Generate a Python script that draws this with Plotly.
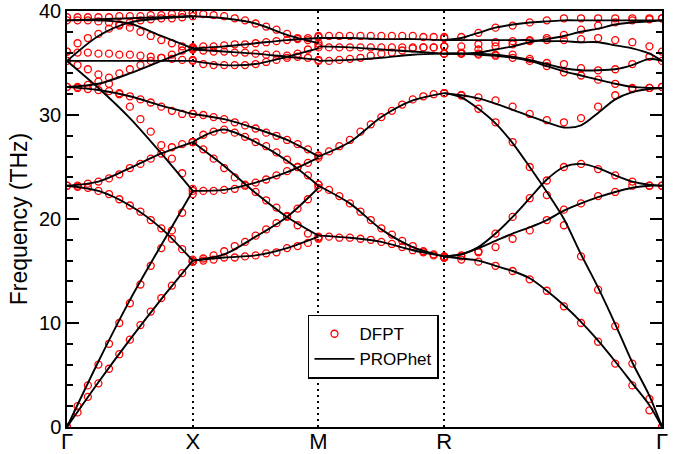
import plotly.graph_objects as go

# high-symmetry path (k coordinates) and labels
K_TICKS = [0.0, 0.5, 1.0, 1.5, 2.366]
K_LABELS = ["Γ", "X", "M", "R", "Γ"]

# ---------------- PROPhet (lines): control points ----------------
K_GX_L = [0.0, 0.125, 0.25, 0.375, 0.5]
GX_TA = [0.0, 4.3, 8.4, 12.3, 16.0]
GX_LA = [0.0, 6.3, 12.2, 17.5, 22.7]
GX_A3 = [23.2, 22.7, 21.3, 19.1, 16.0]
GX_A4 = [23.2, 23.6, 24.9, 26.3, 27.4]
GX_A5 = [32.7, 32.4, 31.8, 30.9, 30.1]
GX_A6 = [35.2, 32.6, 29.7, 26.3, 22.7]
GX_A7 = [32.7, 33.0, 34.0, 35.2, 36.4]
GX_A8 = [35.2, 35.2, 35.2, 35.2, 35.2]
GX_B = [35.2, 37.6, 38.9, 39.3, 39.5]
GX_C = [39.1, 39.1, 38.8, 37.6, 36.4]
GX_TOP = [39.1, 39.2, 39.3, 39.4, 39.5]

K_XM_L = [0.5, 0.625, 0.75, 0.875, 1.0]
XM_1 = [30.1, 29.6, 28.7, 27.6, 26.0]
XM_3 = [27.4, 25.1, 22.5, 20.2, 18.4]
XM_4 = [22.7, 22.8, 23.5, 24.5, 25.9]
XM_5 = [16.0, 16.3, 16.5, 17.2, 18.3]
XM_6 = [16.0, 16.6, 18.3, 20.2, 23.0]
XM_U1 = [39.5, 39.3, 38.8, 37.7, 36.9]
XM_U2 = [36.4, 36.6, 36.9, 37.2, 37.4]
XM_U3 = [36.3, 36.1, 35.9, 35.6, 35.3]
XM_U4 = [35.2, 34.8, 34.9, 35.6, 36.4]
K_XM2 = [0.5, 0.5625, 0.625, 0.75, 0.875, 1.0]
XM_2 = [27.4, 28.2, 28.6, 27.4, 25.6, 23.2]

K_MR_L = [1.0, 1.125, 1.25, 1.375, 1.5]
MR_1 = [37.4, 37.4, 37.3, 37.3, 37.2]
MR_2 = [36.6, 36.5, 36.3, 36.1, 35.9]
MR_3 = [35.2, 35.3, 35.5, 35.8, 35.9]
MR_4 = [26.0, 27.4, 29.8, 31.4, 32.1]
MR_5 = [23.2, 21.5, 19.0, 17.3, 16.4]
MR_6 = [18.4, 18.2, 17.8, 17.0, 16.4]

K_RG = [1.5, 1.568, 1.636, 1.704, 1.772, 1.84, 1.908, 1.976, 2.044, 2.112, 2.18, 2.248, 2.316, 2.366]
RG_T1 = [37.2, 37.4, 37.9, 38.4, 38.7, 38.9, 39.0, 39.1, 39.1, 39.1, 39.1, 39.1, 39.1, 39.1]
RG_T2 = [37.2, 37.2, 37.2, 37.2, 37.2, 37.2, 37.1, 37.1, 37.0, 37.0, 36.7, 36.4, 35.9, 35.2]
RG_T3 = [35.9, 35.9, 36.0, 36.3, 36.6, 37.0, 37.3, 37.6, 38.0, 38.3, 38.7, 38.9, 39.0, 39.1]
RG_T4 = [35.9, 35.9, 35.9, 35.8, 35.6, 35.3, 34.9, 34.5, 34.3, 34.3, 34.4, 34.8, 35.4, 35.2]
RG_T5 = [35.9, 35.9, 35.8, 35.7, 35.5, 35.2, 34.7, 34.2, 33.8, 33.4, 33.0, 32.7, 32.6, 32.6]
RG_L1 = [32.1, 31.9, 31.6, 31.1, 30.5, 29.9, 29.3, 28.8, 29.0, 30.2, 31.5, 32.2, 32.5, 32.6]
RG_L2 = [32.1, 31.7, 30.6, 29.2, 27.3, 25.0, 22.6, 20.0, 16.6, 13.4, 9.9, 6.2, 3.0, 0.0]
RG_L3 = [16.4, 16.6, 17.3, 18.6, 20.2, 22.0, 23.8, 25.0, 25.3, 24.9, 24.2, 23.6, 23.3, 23.2]
RG_L4 = [16.4, 16.6, 17.2, 17.9, 18.6, 19.2, 19.9, 20.8, 21.5, 22.1, 22.6, 23.0, 23.2, 23.2]
RG_L5 = [16.4, 16.2, 16.0, 15.5, 15.0, 14.3, 13.1, 11.7, 10.1, 8.3, 6.3, 4.2, 2.1, 0.0]

# ---------------- DFPT (points) ----------------
K_GX_D = [0.0, 0.042, 0.083, 0.125, 0.167, 0.208, 0.25, 0.292, 0.333, 0.375, 0.417, 0.458, 0.5]
D_GX = [
    [0.0, 1.4, 2.9, 4.2, 5.6, 7.0, 8.4, 9.8, 11.1, 12.4, 13.6, 14.8, 15.9],
    [0.0, 2.0, 4.0, 6.0, 8.0, 10.0, 11.9, 13.7, 15.5, 17.2, 18.9, 20.6, 22.4],
    [23.2, 23.1, 23.0, 22.7, 22.4, 21.9, 21.3, 20.7, 19.9, 19.1, 18.1, 17.1, 16.1],
    [23.2, 23.2, 23.4, 23.6, 23.9, 24.3, 24.9, 25.3, 25.8, 26.3, 26.9, 27.2, 27.4],
    [32.7, 32.6, 32.5, 32.4, 32.3, 32.1, 31.8, 31.5, 31.2, 30.8, 30.4, 30.1, 30.1],
    [35.2, 34.8, 34.4, 33.9, 33.0, 32.0, 30.8, 29.6, 28.4, 27.1, 25.8, 24.4, 22.9],
    [32.7, 32.7, 32.9, 33.2, 33.6, 34.0, 34.4, 34.8, 35.2, 35.5, 35.8, 36.2, 36.5],
    [36.1, 36.0, 36.0, 35.9, 35.9, 35.8, 35.8, 35.7, 35.6, 35.5, 35.4, 35.3, 35.3],
    [36.1, 36.9, 37.4, 37.8, 38.3, 38.6, 38.9, 39.1, 39.2, 39.3, 39.3, 39.4, 39.5],
    [39.4, 39.4, 39.4, 39.4, 39.4, 39.5, 39.5, 39.5, 39.6, 39.6, 39.7, 39.7, 39.8],
    [39.1, 39.1, 39.1, 39.0, 38.9, 38.7, 38.4, 38.0, 37.6, 37.2, 36.9, 36.6, 36.4],
]
K_XM_D = [0.5, 0.542, 0.583, 0.625, 0.667, 0.708, 0.75, 0.792, 0.833, 0.875, 0.917, 0.958, 1.0]
D_XM = [
    [30.1, 30.0, 29.8, 29.6, 29.3, 29.0, 28.7, 28.3, 28.0, 27.6, 27.2, 26.7, 26.1],
    [27.4, 28.1, 28.4, 28.6, 28.3, 27.9, 27.4, 27.0, 26.4, 25.7, 25.0, 24.2, 23.3],
    [27.4, 26.7, 25.8, 24.9, 24.0, 23.3, 22.6, 21.8, 21.1, 20.2, 19.4, 18.6, 18.2],
    [22.7, 22.7, 22.7, 22.8, 22.9, 23.2, 23.5, 23.8, 24.2, 24.6, 25.0, 25.4, 25.9],
    [15.9, 16.0, 16.1, 16.3, 16.3, 16.4, 16.5, 16.7, 16.8, 17.2, 17.4, 17.7, 18.1],
    [15.9, 16.2, 16.5, 16.9, 17.4, 17.8, 18.4, 19.0, 19.6, 20.3, 21.0, 21.9, 23.0],
    [39.8, 39.7, 39.6, 39.5, 39.3, 39.1, 38.8, 38.5, 38.2, 37.8, 37.4, 37.2, 36.9],
    [36.5, 36.6, 36.6, 36.7, 36.8, 36.8, 36.9, 37.0, 37.1, 37.2, 37.3, 37.4, 37.5],
    [36.3, 36.2, 36.1, 36.1, 36.0, 36.0, 35.9, 35.8, 35.8, 35.7, 35.6, 35.5, 35.3],
    [35.2, 34.9, 34.8, 34.8, 34.8, 34.8, 34.9, 35.1, 35.3, 35.5, 35.9, 36.3, 36.7],
]
K_MR_D = [1.0, 1.042, 1.083, 1.125, 1.167, 1.208, 1.25, 1.292, 1.333, 1.375, 1.417, 1.458, 1.5]
D_MR = [
    [37.6, 37.6, 37.6, 37.6, 37.6, 37.6, 37.6, 37.6, 37.6, 37.6, 37.5, 37.5, 37.5],
    [36.5, 36.5, 36.5, 36.5, 36.5, 36.5, 36.5, 36.5, 36.5, 36.5, 36.5, 36.5, 36.6],
    [35.2, 35.2, 35.3, 35.4, 35.5, 35.7, 35.9, 36.0, 36.2, 36.4, 36.5, 36.5, 36.6],
    [26.1, 26.5, 27.0, 27.6, 28.4, 29.1, 29.8, 30.4, 31.0, 31.5, 31.8, 32.0, 32.1],
    [23.3, 22.8, 22.2, 21.5, 20.7, 19.9, 19.1, 18.5, 17.9, 17.4, 16.9, 16.6, 16.4],
    [18.3, 18.3, 18.2, 18.2, 18.1, 18.0, 17.8, 17.6, 17.3, 17.0, 16.8, 16.5, 16.4],
]
D_RG = [
    [37.4, 37.5, 37.9, 38.4, 38.6, 38.9, 39.1, 39.3, 39.3, 39.3, 39.3, 39.3, 39.3, 39.3],
    [36.6, 36.6, 36.8, 37.0, 37.1, 37.2, 37.2, 37.2, 37.3, 37.4, 37.2, 37.0, 36.6, 36.1],
    [35.9, 36.0, 36.3, 36.6, 36.8, 37.1, 37.4, 37.7, 38.2, 38.6, 38.9, 39.1, 39.2, 39.3],
    [35.9, 35.9, 35.9, 35.8, 35.8, 35.4, 35.0, 34.9, 34.5, 34.3, 34.4, 34.9, 35.6, 35.2],
    [35.9, 35.9, 35.8, 35.7, 35.5, 35.2, 34.7, 34.1, 33.8, 33.4, 33.0, 32.6, 32.6, 32.7],
    [32.1, 31.9, 31.7, 31.4, 30.8, 30.1, 29.5, 29.3, 29.7, 30.8, 31.9, 32.5, 32.6, 32.7],
    [32.1, 31.9, 30.6, 29.3, 27.4, 25.0, 22.3, 19.4, 16.4, 13.2, 9.7, 6.1, 2.7, 0.0],
    [16.3, 16.4, 16.8, 18.6, 20.2, 22.0, 23.7, 25.0, 25.3, 24.8, 24.2, 23.6, 23.2, 23.2],
    [16.3, 16.5, 16.9, 17.3, 18.1, 18.9, 19.9, 20.9, 21.5, 22.2, 22.6, 23.2, 23.2, 23.2],
    [16.3, 16.1, 15.9, 15.5, 15.0, 14.2, 13.1, 11.6, 10.0, 8.2, 6.1, 4.0, 1.6, 0.0],
]

FONT = "Liberation Sans, Arial, sans-serif"
fig = go.Figure()

# DFPT points
dx, dy = [], []
for kk, rows in [(K_GX_D, D_GX), (K_XM_D, D_XM), (K_MR_D, D_MR), (K_RG, D_RG)]:
    for r in rows:
        dx += kk
        dy += r
fig.add_trace(go.Scatter(
    x=dx, y=dy, mode="markers", name="DFPT", showlegend=True,
    marker=dict(symbol="circle-open", size=7, color="#ff0000", line=dict(width=1.3, color="#ff0000")),
))

# PROPhet lines
line_sets = [(K_GX_L, b) for b in [GX_TA, GX_LA, GX_A3, GX_A4, GX_A5, GX_A6, GX_A7, GX_A8, GX_B, GX_C, GX_TOP]]
line_sets += [(K_XM_L, b) for b in [XM_1, XM_3, XM_4, XM_5, XM_6, XM_U1, XM_U2, XM_U3, XM_U4]]
line_sets += [(K_XM2, XM_2)]
line_sets += [(K_MR_L, b) for b in [MR_1, MR_2, MR_3, MR_4, MR_5, MR_6]]
line_sets += [(K_RG, b) for b in [RG_T1, RG_T2, RG_T3, RG_T4, RG_T5, RG_L1, RG_L2, RG_L3, RG_L4, RG_L5]]
for i, (kk, band) in enumerate(line_sets):
    fig.add_trace(go.Scatter(
        x=kk, y=band, mode="lines", name="PROPhet", legendgroup="prophet",
        showlegend=(i == 0),
        line=dict(color="black", width=1.9, shape="spline", smoothing=0.8),
    ))

fig.update_layout(
    width=675, height=454,
    margin=dict(l=67, r=13, t=11, b=27, autoexpand=False),
    paper_bgcolor="white", plot_bgcolor="white",
    font=dict(family=FONT, size=20, color="black"),
    showlegend=True,
    legend=dict(
        x=0.405, y=0.27, xanchor="left", yanchor="top",
        bgcolor="white", bordercolor="black", borderwidth=1.5,
        font=dict(size=17, family=FONT), itemwidth=40, tracegroupgap=0,
    ),
    xaxis=dict(
        range=[0, 2.366], tickvals=K_TICKS, ticktext=K_LABELS,
        showline=True, linecolor="black", linewidth=1.5, mirror=True,
        ticks="", ticklen=0, showgrid=True, gridcolor="black", gridwidth=1.5, griddash="2px,4px",
        zeroline=False, tickfont=dict(size=22, family=FONT),
        ticklabelstandoff=-6, automargin=False, ticklabeloverflow="allow",
    ),
    yaxis=dict(
        range=[0, 40], dtick=10, tick0=0,
        showline=True, linecolor="black", linewidth=1.5, mirror="ticks",
        ticks="inside", ticklen=12, tickwidth=1.5, tickcolor="black",
        minor=dict(dtick=2, ticks="inside", ticklen=6, tickwidth=1.5, tickcolor="black"),
        showgrid=False, zeroline=False, tickfont=dict(size=20, family=FONT),
        ticklabelstandoff=0, automargin=False, ticklabeloverflow="allow",
        title=dict(text="Frequency (THz)", font=dict(size=23, family=FONT), standoff=5),
    ),
)

fig.write_html("out.html", config={"displayModeBar": False},
               post_script="document.body.style.margin='0';")
